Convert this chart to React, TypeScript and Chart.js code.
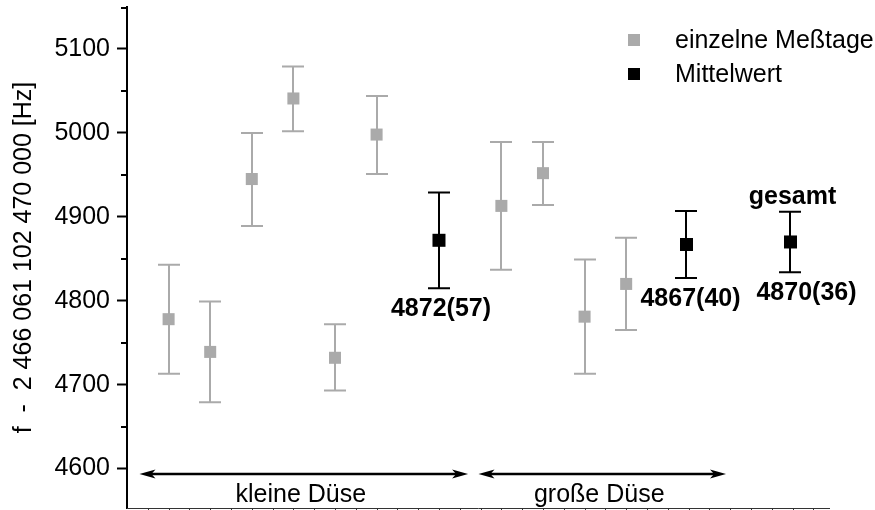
import React, { useEffect, useRef } from "react";
import { Chart, registerables } from "chart.js";

Chart.register(...registerables);

// ---------- data ----------
const seriesNames = ["einzelne Meßtage", "Mittelwert"];
const dayX = [1, 2, 3, 4, 5, 6, 9, 10, 11, 12];
const dayValues = [4778, 4739, 4945, 5041, 4732, 4998, 4913, 4952, 4781, 4820];
const dayLow = [4713, 4679, 4889, 5002, 4693, 4951, 4837, 4914, 4713, 4765];
const dayHigh = [4843, 4799, 5000, 5079, 4772, 5044, 4989, 4989, 4849, 4875];
const meanX = [7.5, 13.45, 15.95];
const meanValues = [4872, 4867, 4870];
const meanErr = [57, 40, 36];
const meanLabels = ["4872(57)", "4867(40)", "4870(36)"];
const totalLabel = "gesamt";
const groupLabels = ["kleine Düse", "große Düse"];
const groupStart = [0.3, 8.45];
const groupEnd = [8.2, 14.4];
const yTitle = "f  -  2 466 061 102 470 000 [Hz]";
const yTickValues = [4600, 4700, 4800, 4900, 5000, 5100];
const yMinorTickValues = [4650, 4750, 4850, 4950, 5050, 5150];
const yMin = 4553;
const yMax = 5150;
const xMin = 0;
const xMax = 16.9;

const GRAY = "#aaaaaa";
const BLACK = "#000000";
const FONT = "'Liberation Sans', Arial, Helvetica, sans-serif";

const errorBarPlugin = {
  id: "errorBars",
  beforeDatasetsDraw(chart: any) {
    const ctx = chart.ctx;
    const ys = chart.scales.y;
    chart.data.datasets.forEach((ds: any, di: number) => {
      const meta = chart.getDatasetMeta(di);
      ds.data.forEach((p: any, i: number) => {
        const el = meta.data[i];
        if (!el) return;
        const x = Math.round(el.x);
        const yt = ys.getPixelForValue(p.hi);
        const yb = ys.getPixelForValue(p.lo);
        ctx.save();
        ctx.strokeStyle = ds.borderColor;
        ctx.lineWidth = 2;
        ctx.beginPath();
        ctx.moveTo(x, yt);
        ctx.lineTo(x, yb);
        ctx.moveTo(x - 11, yt);
        ctx.lineTo(x + 11, yt);
        ctx.moveTo(x - 11, yb);
        ctx.lineTo(x + 11, yb);
        ctx.stroke();
        ctx.restore();
      });
    });
  },
};

function arrowHead(ctx: any, x: number, y: number, dir: number) {
  ctx.beginPath();
  ctx.moveTo(x, y);
  ctx.lineTo(x - dir * 16, y - 4.5);
  ctx.lineTo(x - dir * 12, y);
  ctx.lineTo(x - dir * 16, y + 4.5);
  ctx.closePath();
  ctx.fill();
}

const decorPlugin = {
  id: "decor",
  afterDraw(chart: any) {
    const ctx = chart.ctx;
    const xs = chart.scales.x;
    const ys = chart.scales.y;
    const area = chart.chartArea;
    ctx.save();

    // minor ticks on y axis
    ctx.strokeStyle = BLACK;
    ctx.lineWidth = 2;
    yMinorTickValues.forEach((v) => {
      let py = Math.round(ys.getPixelForValue(v));
      if (py < area.top + 1) py = area.top + 1;
      ctx.beginPath();
      ctx.moveTo(area.left - 6, py);
      ctx.lineTo(area.left, py);
      ctx.stroke();
    });

    // bottom baseline with small ticks
    ctx.strokeStyle = "#333333";
    ctx.lineWidth = 1;
    const by = Math.round(area.bottom) + 0.5;
    ctx.beginPath();
    ctx.moveTo(area.left, by);
    ctx.lineTo(area.right, by);
    for (let v = xMin + 0.5; v <= xMax; v += 0.5) {
      const px = Math.round(xs.getPixelForValue(v)) + 0.5;
      ctx.moveTo(px, by);
      ctx.lineTo(px, by + 2);
    }
    ctx.stroke();

    // group arrows and labels
    ctx.fillStyle = BLACK;
    ctx.strokeStyle = BLACK;
    ctx.lineWidth = 2.5;
    const ay = area.bottom - 34;
    groupLabels.forEach((label, i) => {
      const x1 = xs.getPixelForValue(groupStart[i]);
      const x2 = xs.getPixelForValue(groupEnd[i]);
      ctx.beginPath();
      ctx.moveTo(x1 + 10, ay);
      ctx.lineTo(x2 - 10, ay);
      ctx.stroke();
      arrowHead(ctx, x1, ay, -1);
      arrowHead(ctx, x2, ay, 1);
      ctx.font = `25px ${FONT}`;
      ctx.textAlign = "center";
      ctx.textBaseline = "alphabetic";
      ctx.fillText(label, (x1 + x2) / 2 - 3, area.bottom - 6);
    });

    // mean value labels
    ctx.font = `bold 25px ${FONT}`;
    ctx.textAlign = "center";
    ctx.textBaseline = "alphabetic";
    const dx = [2, 4, 16];
    meanLabels.forEach((label, i) => {
      const px = xs.getPixelForValue(meanX[i]) + dx[i];
      const py = ys.getPixelForValue(meanValues[i] - meanErr[i]) + 28;
      ctx.fillText(label, px, py);
    });
    const last = meanX.length - 1;
    ctx.fillText(
      totalLabel,
      xs.getPixelForValue(meanX[last]) + 2,
      ys.getPixelForValue(meanValues[last] + meanErr[last]) - 8
    );

    // legend
    const legendBaselines = [48, 82];
    chart.data.datasets.forEach((ds: any, i: number) => {
      const base = legendBaselines[i];
      ctx.fillStyle = ds.backgroundColor;
      ctx.fillRect(628, base - 14, 12, 12);
      ctx.fillStyle = BLACK;
      ctx.font = `25px ${FONT}`;
      ctx.textAlign = "left";
      ctx.fillText(ds.label, 675, base);
    });

    ctx.restore();
  },
};

export default function App() {
  const canvasRef = useRef<HTMLCanvasElement | null>(null);

  useEffect(() => {
    if (!canvasRef.current) return;
    const dayData = dayX.map((x, i) => ({ x, y: dayValues[i], lo: dayLow[i], hi: dayHigh[i] }));
    const meanData = meanX.map((x, i) => ({
      x,
      y: meanValues[i],
      lo: meanValues[i] - meanErr[i],
      hi: meanValues[i] + meanErr[i],
    }));
    const chart = new Chart(canvasRef.current, {
      type: "scatter",
      data: {
        datasets: [
          {
            label: seriesNames[0],
            data: dayData,
            pointStyle: "rect",
            pointRadius: 8.5,
            pointHoverRadius: 8.5,
            backgroundColor: GRAY,
            borderColor: GRAY,
            borderWidth: 0,
          },
          {
            label: seriesNames[1],
            data: meanData,
            pointStyle: "rect",
            pointRadius: 9.2,
            pointHoverRadius: 9.2,
            backgroundColor: BLACK,
            borderColor: BLACK,
            borderWidth: 0,
          },
        ],
      },
      options: {
        animation: false,
        responsive: false,
        events: [],
        layout: { autoPadding: false, padding: { left: 0, top: 7, right: 45, bottom: 2 } },
        plugins: {
          legend: { display: false },
          tooltip: { enabled: false },
        },
        scales: {
          x: {
            type: "linear",
            min: xMin,
            max: xMax,
            display: false,
          },
          y: {
            type: "linear",
            min: yMin,
            max: yMax,
            afterBuildTicks: (s: any) => {
              s.ticks = yTickValues.map((v) => ({ value: v }));
            },
            afterFit: (s: any) => {
              s.width = 127;
              s.paddingTop = 0;
              s.paddingBottom = 0;
            },
            border: { display: true, color: BLACK, width: 2 },
            grid: {
              display: true,
              drawOnChartArea: false,
              drawTicks: true,
              tickLength: 10,
              tickWidth: 2,
              tickColor: BLACK,
            },
            ticks: {
              padding: 7,
              color: BLACK,
              font: { family: FONT, size: 25 },
              callback: (v: any) => String(v),
            },
            title: {
              display: true,
              text: yTitle,
              color: BLACK,
              font: { family: FONT, size: 25 },
              padding: { top: 9, bottom: 0 },
            },
          },
        },
      },
      plugins: [errorBarPlugin, decorPlugin],
    } as any);
    return () => chart.destroy();
  }, []);

  return (
    <div style={{ position: "fixed", left: 0, top: 0, width: 875, height: 510, background: "#fff" }}>
      <canvas ref={canvasRef} width={875} height={510} style={{ display: "block" }} />
    </div>
  );
}
